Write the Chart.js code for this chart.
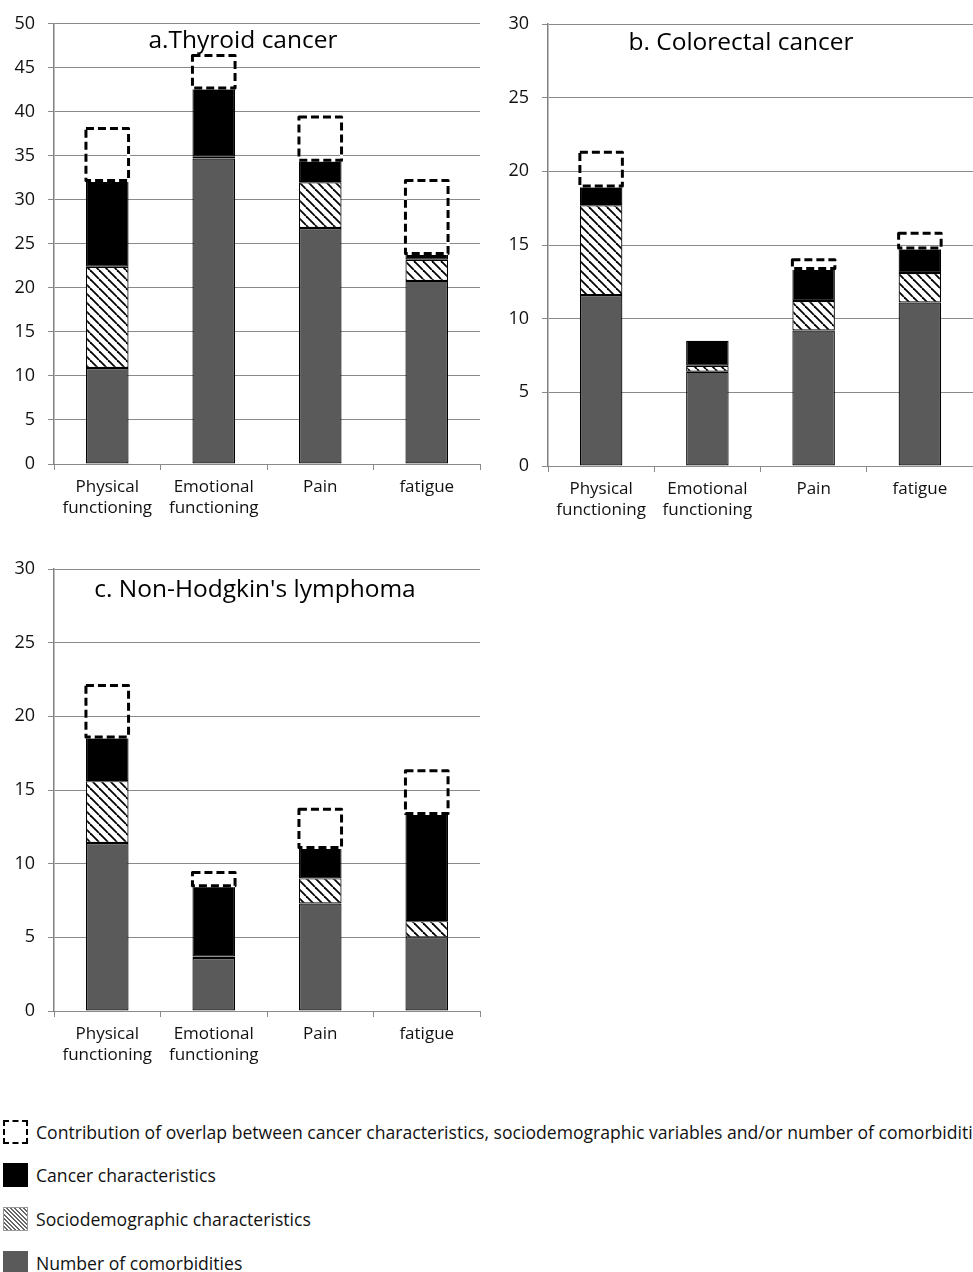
<!DOCTYPE html>
<html>
<head>
<meta charset="utf-8">
<script src="https://cdn.jsdelivr.net/npm/chart.js@4/dist/chart.umd.min.js"></script>
<style>
  html, body { margin: 0; padding: 0; background: #fff; }
  body { width: 973px; height: 1272px; position: relative; overflow: hidden; font-family: "Open Sans", "Noto Sans", sans-serif; }
  canvas { position: absolute; }
  .legend-row { position: absolute; left: 0; height: 24px; }
  .legend-box { position: absolute; left: 3px; top: 0; width: 25px; height: 24px; box-sizing: border-box; }
  .legend-text { position: absolute; left: 36px; top: 50%; transform: translateY(-50%); white-space: nowrap; font-size: 17.6px; color: #111; }
</style>
</head>
<body>
<canvas id="panelA" width="490" height="524" style="left:0;top:0"></canvas>
<canvas id="panelB" width="483" height="526" style="left:490px;top:0"></canvas>
<canvas id="panelC" width="490" height="526" style="left:0;top:545px"></canvas>
<div id="legend"></div>
<script>
// Outcome domains shown on every panel
const categories = [['Physical', 'functioning'], ['Emotional', 'functioning'], 'Pain', 'fatigue'];

// a. Thyroid cancer: explained variance (%) per block of determinants
const thyroidComorbidities = [10.9, 34.7, 26.8, 20.8];
const thyroidSociodemographic = [11.5, 0.2, 5.2, 2.4];
const thyroidCancer = [9.8, 7.8, 2.5, 0.7];
const thyroidOverlap = [5.9, 3.7, 4.9, 8.3];

// b. Colorectal cancer
const colorectalComorbidities = [11.6, 6.4, 9.2, 11.1];
const colorectalSociodemographic = [6.1, 0.4, 2.0, 2.0];
const colorectalCancer = [1.3, 1.7, 2.2, 1.7];
const colorectalOverlap = [2.3, 0, 0.6, 1.0];

// c. Non-Hodgkin's lymphoma
const nhlComorbidities = [11.4, 3.6, 7.3, 5.0];
const nhlSociodemographic = [4.2, 0.1, 1.7, 1.1];
const nhlCancer = [3.0, 4.8, 2.1, 7.3];
const nhlOverlap = [3.5, 0.9, 2.6, 2.9];

const seriesNames = [
  'Number of comorbidities',
  'Sociodemographic characteristics',
  'Cancer characteristics',
  'Contribution of overlap between cancer characteristics, sociodemographic variables and/or number of comorbidities'
];

const FONT = '"Open Sans", "Noto Sans", sans-serif';
const GRID = '#8a8a8a';

// Diagonal hatch used for the sociodemographic block
function makeHatch() {
  const s = 9;
  const c = document.createElement('canvas');
  c.width = s; c.height = s;
  const g = c.getContext('2d');
  g.fillStyle = '#fff';
  g.fillRect(0, 0, s, s);
  g.strokeStyle = '#000';
  g.lineWidth = 1.8;
  for (const k of [-s, 0, s]) {
    g.beginPath();
    g.moveTo(k, 0);
    g.lineTo(k + s, s);
    g.stroke();
  }
  return document.createElement('canvas').getContext('2d').createPattern(c, 'repeat');
}
const hatch = makeHatch();

// Overlap block: dashed outline on top of each stack
const dashedOverlap = {
  id: 'dashedOverlap',
  afterDatasetsDraw(chart) {
    const meta = chart.getDatasetMeta(3);
    const ctx = chart.ctx;
    ctx.save();
    meta.data.forEach((bar, i) => {
      const v = chart.data.datasets[3].data[i];
      if (!v) return;
      const p = bar.getProps(['x', 'y', 'base', 'width'], true);
      const left = p.x - p.width / 2;
      const top = Math.min(p.y, p.base);
      const h = Math.abs(p.base - p.y);
      ctx.lineJoin = 'round';
      ctx.lineWidth = 3;
      ctx.setLineDash([]);
      ctx.strokeStyle = '#fff';
      ctx.strokeRect(left, top, p.width, h);
      ctx.setLineDash([8, 4]);
      ctx.strokeStyle = '#000';
      ctx.strokeRect(left, top, p.width, h);
    });
    ctx.restore();
  }
};

// Panel heading written inside the plot area
const panelTitle = {
  id: 'panelTitle',
  afterDraw(chart, args, opts) {
    const ctx = chart.ctx;
    const a = chart.chartArea;
    ctx.save();
    ctx.font = '24.5px ' + FONT;
    ctx.fillStyle = '#000';
    ctx.textAlign = 'center';
    ctx.textBaseline = 'middle';
    ctx.fillText(opts.text, a.left + opts.dx, a.top + opts.dy);
    ctx.restore();
  }
};

function buildChart(id, comorb, socio, cancer, overlap, yMax, axisW, padRight, padTop, title) {
  const common = { borderColor: '#000', borderWidth: 1.2, borderSkipped: false, barPercentage: 0.4, categoryPercentage: 1 };
  return new Chart(document.getElementById(id), {
    type: 'bar',
    data: {
      labels: categories,
      datasets: [
        Object.assign({ label: seriesNames[0], data: comorb, backgroundColor: '#5a5a5a' }, common),
        Object.assign({ label: seriesNames[1], data: socio, backgroundColor: hatch }, common),
        Object.assign({ label: seriesNames[2], data: cancer, backgroundColor: '#000' }, common),
        Object.assign({}, common, { label: seriesNames[3], data: overlap, backgroundColor: 'rgba(0,0,0,0)', borderWidth: 0 })
      ]
    },
    options: {
      responsive: false,
      animation: false,
      devicePixelRatio: 1,
      layout: { padding: { left: 0, right: padRight, top: padTop, bottom: 0 } },
      plugins: {
        legend: { display: false },
        tooltip: { enabled: false },
        panelTitle: title
      },
      scales: {
        x: {
          stacked: true,
          offset: true,
          grid: { offset: true, drawOnChartArea: false, drawTicks: true, tickLength: 6, color: GRID, lineWidth: 1 },
          border: { display: true, color: GRID, width: 1 },
          ticks: { color: '#111', font: { family: FONT, size: 17, lineHeight: 1.24 }, maxRotation: 0, autoSkip: false, padding: 7 },
          afterFit(scale) { scale.height = 60; }
        },
        y: {
          stacked: true,
          min: 0,
          max: yMax,
          ticks: { stepSize: 5, color: '#111', font: { family: FONT, size: 18 }, padding: 13 },
          grid: { color: GRID, lineWidth: 1, tickLength: 6 },
          border: { display: true, color: '#808080', width: 1.5 },
          afterFit(scale) { scale.width = axisW; }
        }
      }
    },
    plugins: [dashedOverlap, panelTitle]
  });
}

buildChart('panelA', thyroidComorbidities, thyroidSociodemographic, thyroidCancer, thyroidOverlap,
  50, 54, 10, 23, { text: 'a.Thyroid cancer', dx: 189, dy: 17 });
buildChart('panelB', colorectalComorbidities, colorectalSociodemographic, colorectalCancer, colorectalOverlap,
  30, 58, 0, 24, { text: 'b. Colorectal cancer', dx: 193, dy: 19 });
buildChart('panelC', nhlComorbidities, nhlSociodemographic, nhlCancer, nhlOverlap,
  30, 54, 10, 24, { text: "c. Non-Hodgkin's lymphoma", dx: 201, dy: 21 });

// Legend below the panels, listed from top block to bottom block
const legendItems = [
  { name: seriesNames[3], top: 1120, style: 'border:2px dashed #000;background:#fff;' },
  { name: seriesNames[2], top: 1163, style: 'background:#000;' },
  { name: seriesNames[1], top: 1207, style: 'border:1px solid #999;background:repeating-linear-gradient(45deg,#fff 0 1.5px,#666 1.5px 3px);' },
  { name: seriesNames[0], top: 1251, style: 'background:#5a5a5a;' }
];
const legend = document.getElementById('legend');
legendItems.forEach(item => {
  const row = document.createElement('div');
  row.className = 'legend-row';
  row.style.top = item.top + 'px';
  const box = document.createElement('div');
  box.className = 'legend-box';
  box.style.cssText = item.style;
  const txt = document.createElement('div');
  txt.className = 'legend-text';
  txt.textContent = item.name;
  row.appendChild(box);
  row.appendChild(txt);
  legend.appendChild(row);
});
</script>
</body>
</html>
